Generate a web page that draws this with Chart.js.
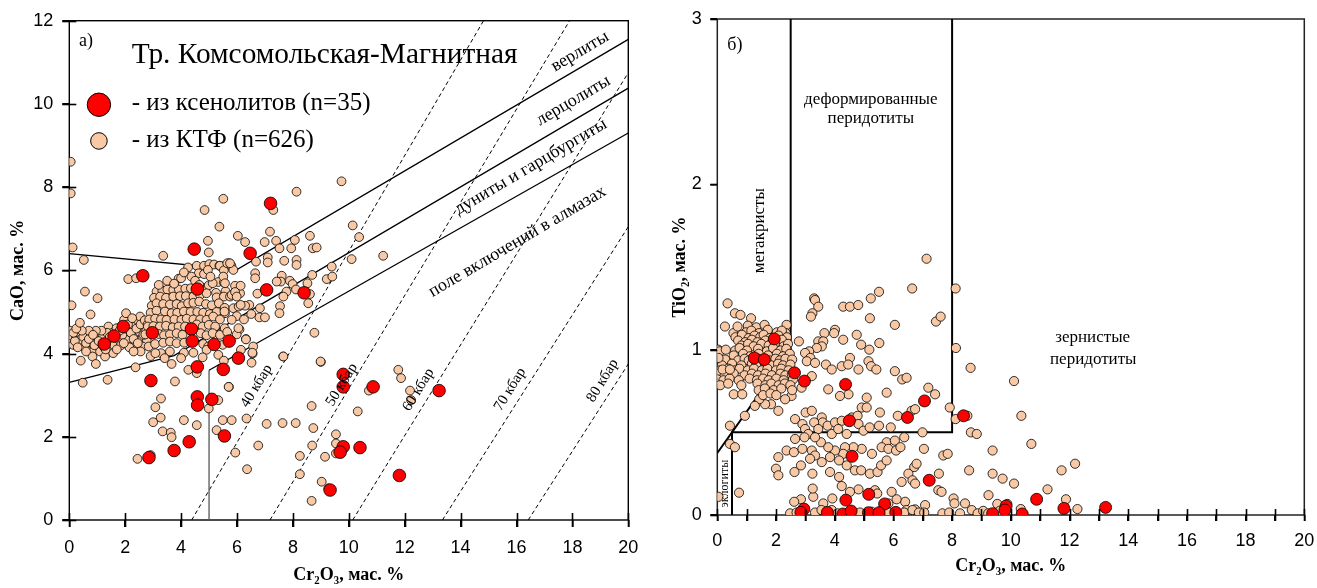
<!DOCTYPE html>
<html><head><meta charset="utf-8">
<script src="https://cdn.jsdelivr.net/npm/chart.js@4.4.1/dist/chart.umd.min.js"></script>
<style>
html,body{margin:0;padding:0;background:#fff;width:1317px;height:588px;overflow:hidden}
#cl{position:absolute;left:0;top:0}
#cr{position:absolute;left:660px;top:0}
</style></head><body>
<canvas id="cl" width="660" height="588"></canvas>
<canvas id="cr" width="657" height="588"></canvas>
<script>
// ---------- DATA ----------
const cr2o3Ticks = [0,2,4,6,8,10,12,14,16,18,20];
const cr2o3MinorTicks = [0,1,2,3,4,5,6,7,8,9,10,11,12,13,14,15,16,17,18,19,20];
const caoTicks = [0,2,4,6,8,10,12];
const tio2Ticks = [0,1,2,3];

// Garnets from xenoliths (left: Cr2O3 vs CaO)
const xenolithCaO = [[4.47,6.51],[2.63,5.87],[4.58,5.55],[1.93,4.65],[1.6,4.42],[1.25,4.23],[2.97,4.5],[4.37,4.59],[4.4,4.3],[5.18,4.22],[5.72,4.3],[4.58,3.68],[5.51,3.62],[2.92,3.35],[4.58,2.96],[5.1,2.9],[4.59,2.76],[5.55,2.02],[4.29,1.88],[3.75,1.67],[2.85,1.5],[6.05,3.89],[7.06,5.53],[8.4,5.46],[9.33,0.72],[7.2,7.61],[6.47,6.41],[9.8,3.5],[9.8,3.2],[10.87,3.2],[13.23,3.11],[9.8,1.76],[10.4,1.74],[9.69,1.63],[11.81,1.07]];

// Garnets from heavy-mineral concentrate (left: Cr2O3 vs CaO)
const ktfCaO = [
[0.02,4.55],[0.05,4.41],[0.0,4.23],[0.14,4.21],[0.24,4.41],[0.36,4.49],[0.45,4.29],[0.56,4.13],[0.64,4.41],[0.74,4.5],[0.8,4.26],[0.91,4.38],[1.0,4.17],[1.07,4.49],[1.16,4.26],[1.31,4.33],[1.4,4.65],[1.43,4.17],[1.55,4.5],[1.69,4.26],[1.79,4.41],[1.88,4.61],[1.96,4.81],[2.03,4.97],[2.11,4.49],[2.19,4.29],[2.27,4.65],[2.36,4.49],[2.43,4.81],[2.53,4.89],[2.59,4.33],[2.67,4.61],[2.77,4.33],[2.5,4.53],[0.38,4.33],[0.86,4.05],[1.1,4.05],[1.57,4.01],[1.28,3.93],[0.83,3.93],[1.69,4.61],[2.05,4.33],[2.35,4.21],[2.62,4.17],[2.84,4.17],[3.07,4.23],
[0.2,4.3],[0.3,4.15],[0.5,4.4],[0.6,4.25],[0.7,4.35],[0.9,4.2],[1.0,4.4],[1.2,4.4],[1.25,4.15],[1.35,4.5],[1.5,4.3],[1.6,4.2],[1.65,4.45],[1.75,4.35],[1.85,4.2],[1.9,4.45],[2.0,4.6],[2.1,4.7],[2.2,4.5],[2.25,4.85],[2.3,4.35],[2.4,4.6],[2.45,4.25],[2.55,4.7],[2.65,4.45],[2.7,4.8],[2.75,4.55],[2.8,4.7],[1.15,4.55],[0.95,4.55],[0.7,4.55],[1.45,4.4],[1.8,4.55],[0.15,4.5],[0.85,4.45],[1.05,4.3],[1.3,4.1],[1.7,4.1],[2.15,4.15],[2.55,4.05],[0.45,4.55],[0.25,4.6],[1.95,4.25],[2.3,4.05],[0.6,4.05],
[4.25,6.07],[4.56,6.11],[4.82,6.11],[5.01,6.15],[5.18,6.14],[5.37,6.11],[5.56,6.11],[5.72,6.17],[4.63,5.93],[4.82,5.91],[4.96,6.01],[3.91,5.8],[4.0,5.81],[4.37,5.85],[5.33,5.72],[5.53,5.71],[3.12,5.49],[3.33,5.51],[3.51,5.54],[3.72,5.53],[3.92,5.54],[4.15,5.56],[4.35,5.57],[4.79,5.58],[4.99,5.64],[5.13,5.69],[5.25,5.46],[5.59,5.5],[3.03,5.34],[3.25,5.37],[3.46,5.34],[3.72,5.37],[3.96,5.38],[4.17,5.38],[4.44,5.37],[4.68,5.41],[4.91,5.45],[5.27,5.35],[5.53,5.37],[5.75,5.37],[2.95,5.15],[3.12,5.21],[3.36,5.19],[3.6,5.18],[3.84,5.19],[4.02,5.14],[4.25,5.21],[4.44,5.22],[4.65,5.25],[4.89,5.19],[5.1,5.16],[5.35,5.21],[5.56,5.1],[2.91,4.98],[3.12,5.03],[3.42,5.01],[3.66,4.97],[3.86,4.98],[4.1,5.01],[4.34,5.0],[4.58,5.0],[4.79,4.98],[5.03,4.95],[5.27,5.0],[5.57,4.97],[2.86,4.82],[3.07,4.84],[3.28,4.82],[3.48,4.81],[3.76,4.82],[4.01,4.81],[4.2,4.84],[4.44,4.82],[4.68,4.82],[4.91,4.81],[5.15,4.89],[5.39,4.82],[2.81,4.65],[3.01,4.66],[3.24,4.65],[3.46,4.67],[3.7,4.63],[3.91,4.65],[4.14,4.65],[4.56,4.7],[4.77,4.65],[4.99,4.69],[5.22,4.65],[2.72,4.46],[3.2,4.47],[3.39,4.44],[3.6,4.46],[3.84,4.49],[4.05,4.45],[4.7,4.49],[4.91,4.44],[5.13,4.49],[5.39,4.45],[3.36,4.26],[3.6,4.29],[3.84,4.25],[4.11,4.26],[4.79,4.23],[4.97,4.17],[5.49,4.21],[3.6,4.05],[4.1,4.02],[4.44,4.02],[4.91,4.09],[5.33,3.97],[5.53,3.83],[3.66,3.75],[4.0,3.89],[4.77,3.91],[3.28,4.01],[2.91,3.94],[3.08,4.01],[4.26,3.61],
[5.39,6.11],[5.53,6.0],[5.65,6.17],[5.8,6.11],[5.51,5.85],[5.57,5.69],[5.81,5.41],[5.93,5.63],[5.87,5.09],[6.06,5.13],[5.55,5.01],[5.99,4.9],[5.81,4.81],[5.56,4.61],[3.5,5.75],[3.2,5.65],[4.5,5.75],[5.05,5.85],[4.1,5.95],[3.75,5.68],[4.65,5.65],
[0.05,8.61],[0.05,7.85],[0.12,6.55],[0.52,6.25],[3.36,6.35],[5.51,7.72],[4.84,7.45],[5.37,7.05],[4.96,6.71],[4.99,6.43],[2.11,5.79],[2.39,5.81],[0.56,5.49],[1.01,5.33],[0.08,5.16],[0.76,4.94],[0.38,4.74],[0.41,3.83],[0.95,3.75],[0.48,3.3],[1.37,3.37],[2.37,3.67],[3.28,2.92],[3.78,3.33],
[3.41,3.89],[3.08,2.71],[3.0,2.35],[3.27,2.46],[3.34,2.13],[3.63,2.1],[3.66,1.99],[4.1,2.4],[4.56,2.28],[4.56,3.53],[5.33,2.88],[4.99,2.68],[5.27,2.16],[5.49,2.4],[5.81,2.4],[5.94,1.62],[6.34,2.44],[6.36,1.22],[6.76,1.79],[7.06,2.31],[7.63,2.33],[8.1,2.33],[8.73,2.21],[8.67,2.74],[8.69,1.79],[8.25,1.54],[8.25,1.1],[9.15,1.52],[9.03,0.92],[9.27,0.76],[8.67,0.46],[9.0,3.8],[8.77,4.5],[7.65,3.93],[6.52,3.78],[6.56,4.0],[6.32,4.35],[6.09,4.58],[5.71,3.2],[2.44,1.47],[2.91,1.56],
[11.77,3.61],[11.87,3.41],[12.19,3.11],[12.23,2.88],[10.72,3.11],[10.32,2.61],[9.54,2.06],[9.54,1.84],[9.54,1.6],
[9.74,8.14],[8.13,7.89],[7.3,7.45],[10.14,7.08],[10.37,6.8],[11.23,6.35],[10.1,6.27],[6.03,6.83],[6.29,6.68],[7.18,6.93],[6.99,6.68],[7.4,6.71],[8.07,6.73],[8.61,6.83],[7.52,6.53],[7.94,6.53],[8.71,6.53],[8.85,6.55],[6.68,6.21],[7.1,6.31],[7.1,6.19],[7.69,6.23],[8.13,6.25],[8.13,6.13],[9.39,6.09],[9.21,5.79],[9.41,5.85],[8.69,5.89],[6.65,5.93],[6.65,5.81],[5.87,6.01],[5.75,6.17],[7.6,5.87],[7.57,5.73],[7.42,5.73],[7.89,5.75],[7.99,5.67],[7.77,5.49],[8.11,5.54],[8.52,5.69],[8.61,5.43],[8.55,5.21],[7.66,5.37],[7.54,5.14],[7.52,4.97],[6.82,5.09],[6.8,4.87],[7.0,4.87],[6.44,5.17],[6.29,5.15],[6.13,5.17],[6.11,5.45],[6.13,5.63],[5.93,5.48],[5.99,5.37],[6.73,5.44],[6.51,4.95],[6.25,4.82],[6.32,4.34],[5.99,4.46],[5.65,4.52],[6.05,4.61],[6.58,4.17],[6.55,4.02],[6.14,4.09],[7.66,3.93],[8.99,3.81],[5.7,3.2]
];

// Garnets from xenoliths (right: Cr2O3 vs TiO2)
const xenolithTiO2 = [[1.26,0.95],[1.6,0.94],[1.94,1.065],[2.63,0.86],[2.97,0.81],[4.37,0.79],[4.5,0.57],[6.48,0.59],[7.06,0.69],[8.39,0.6],[4.59,0.355],[7.22,0.21],[5.16,0.125],[4.38,0.09],[5.7,0.067],[2.95,0.036],[2.85,0.016],[3.75,0.016],[4.28,0.006],[4.56,0.024],[5.15,0.014],[5.51,0.014],[6.08,0.016],[9.38,0.008],[9.84,0.054],[9.8,0.03],[10.39,0.006],[10.88,0.095],[11.81,0.04],[13.23,0.046]];

// Garnets from heavy-mineral concentrate (right: Cr2O3 vs TiO2)
const ktfTiO2 = [
[7.13,1.55],[6.64,1.37],[5.51,1.35],[5.23,1.31],[8.12,1.37],[3.3,1.31],
[0.35,1.28],[0.6,1.22],[0.79,1.21],[0.26,1.14],[0.55,1.1],[0.69,1.14],[1.15,1.19],[1.06,1.14],[1.32,1.12],[2.36,1.15],[2.16,1.1],[2.33,1.1],
[3.33,1.3],[3.44,1.26],[3.24,1.22],[3.19,1.2],[4.29,1.26],[4.52,1.26],[4.8,1.27],[5.2,1.19],[6.05,1.15],[7.45,1.17],[7.61,1.2],[8.13,1.01],[8.63,0.89],
[3.65,1.1],[4.01,1.12],[3.98,1.1],[3.44,1.05],[3.61,1.05],[3.56,1.02],[4.29,1.06],[4.75,1.09],[4.9,1.03],[5.18,1.0],[5.52,1.04],[3.39,1.01],[3.13,0.99],[2.99,0.98],[2.78,1.05],[3.17,0.95],[3.05,0.93],[3.33,0.92],[3.7,0.91],[3.9,0.88],[4.24,0.9],[4.52,0.95],[4.46,0.91],[4.81,0.88],[5.15,0.93],[5.24,0.9],[5.42,0.88],[6.05,0.87],[6.3,0.82],[6.45,0.83],[5.77,0.74],[5.09,0.71],[4.47,0.73],[4.18,0.72],[3.78,0.76],[3.22,0.84],[2.87,0.77],[2.53,0.72],[2.31,0.7],[2.08,0.63],[1.83,0.67],[1.63,0.67],[1.43,0.7],[0.56,0.73],[0.85,0.73],[1.28,0.66],[0.94,0.6],[0.43,0.54],[0.43,0.43],[0.6,0.41],[0.74,0.135],[0.04,0.11],
[2.65,0.58],[3.01,0.62],[3.22,0.63],[3.56,0.59],[3.59,0.56],[3.3,0.56],[2.9,0.55],[2.99,0.52],[3.1,0.49],[3.44,0.52],[3.76,0.54],[4.01,0.56],[4.24,0.57],[4.58,0.59],[4.78,0.6],[4.92,0.65],[5.09,0.65],[3.9,0.49],[4.12,0.52],[4.41,0.49],[4.81,0.55],[4.98,0.51],[5.19,0.53],[5.54,0.62],[5.91,0.53],[6.15,0.6],[6.62,0.63],[6.74,0.64],[7.19,0.77],[7.42,0.73],[7.92,0.65],[8.12,0.58],[8.64,0.5],[8.84,0.49],[8.52,0.6],[6.99,0.5],[6.37,0.47],[5.51,0.54],[5.77,0.44],[6.05,0.45],[5.6,0.41],[5.27,0.37],[4.92,0.4],[4.64,0.41],[4.35,0.41],[4.29,0.37],[4.01,0.39],[3.78,0.41],[3.53,0.44],[3.33,0.47],[2.97,0.47],[2.65,0.46],[2.36,0.39],[2.08,0.35],[2.61,0.38],[2.9,0.4],[3.22,0.39],[3.33,0.36],[3.56,0.32],[3.84,0.35],[4.15,0.33],[4.41,0.3],[4.69,0.27],[4.9,0.27],[5.2,0.25],[5.46,0.26],[5.58,0.3],[5.77,0.33],[5.83,0.4],[6.09,0.39],[6.24,0.41],[6.71,0.29],[6.79,0.31],[6.51,0.25],[6.28,0.2],[6.65,0.21],[6.74,0.19],[7.55,0.25],[7.7,0.36],[7.85,0.37],[7.04,0.4],[8.58,0.27],[7.53,0.15],[7.64,0.14],[8.05,0.1],[8.08,0.07],[8.44,0.07],[9.24,0.12],[7.08,0.06],[6.4,0.08],[6.74,0.034],[6.45,0.03],[3.92,0.1],[3.27,0.11],[2.85,0.095],[3.61,0.07],[5.37,0.15],[5.45,0.13],[4.81,0.155],[4.52,0.14],[4.24,0.175],[4.15,0.23],[3.84,0.26],[3.24,0.25],[3.16,0.34],[2.85,0.3],[2.63,0.26],[2.0,0.28],[2.08,0.24],[3.25,0.16],[2.62,0.08],[5.94,0.14],[6.11,0.095],[5.83,0.07],
[2.48,0.01],[2.7,0.015],[3.33,0.015],[3.55,0.03],[3.9,0.03],[4.1,0.01],[4.44,0.01],[4.67,0.01],[4.86,0.015],[5.26,0.02],[5.85,0.015],[6.37,0.015],[6.65,0.03],[6.87,0.015],[7.05,0.015],[7.67,0.01],[7.9,0.015],[8.27,0.01],[8.67,0.03],[8.87,0.01],[9.06,0.025],[9.23,0.01],[9.52,0.01],
[10.11,0.81],[10.36,0.6],[10.7,0.43],[9.38,0.39],[9.38,0.25],[9.72,0.22],[10.11,0.19],[11.25,0.155],[11.73,0.27],[12.19,0.31],[11.88,0.095],[12.27,0.036],[10.34,0.036],[9.54,0.067],[9.88,0.067],[9.63,0.026],
[1.04,1.145],[1.33,1.135],[1.61,1.15],
[0.98,1.105],[1.16,1.115],[1.42,1.1],[1.72,1.12],[2.03,1.105],[2.2,1.115],
[0.62,1.075],[0.84,1.09],[1.07,1.07],[1.27,1.085],[1.46,1.075],[1.58,1.09],[1.79,1.07],[2.09,1.085],[2.37,1.075],
[0.71,1.055],[0.95,1.045],[1.18,1.06],[1.37,1.045],[1.64,1.055],[1.87,1.045],[2.2,1.06],
[0.82,1.025],[1.05,1.035],[1.24,1.02],[1.5,1.035],[1.75,1.025],[1.96,1.035],[2.26,1.02],[2.41,1.035],
[0.03,1.0],[0.61,0.995],[0.76,1.01],[1.01,0.995],[1.39,1.005],[1.69,0.99],[1.9,1.01],[2.15,0.995],[2.35,1.005],
[0.56,0.965],[0.88,0.975],[1.12,0.96],[1.41,0.975],[1.73,0.965],[2.03,0.975],[2.24,0.96],[2.47,0.975],
[0.27,0.94],[0.71,0.935],[0.93,0.945],[1.07,0.935],[1.41,0.945],[1.79,0.935],[1.98,0.945],[2.13,0.935],[2.32,0.945],[2.55,0.94],
[0.16,0.905],[0.5,0.915],[0.82,0.905],[1.18,0.915],[1.33,0.905],[1.64,0.915],[1.84,0.905],[2.07,0.915],[2.24,0.905],[2.49,0.91],
[0.1,0.875],[0.37,0.885],[0.61,0.875],[0.76,0.885],[1.04,0.875],[1.25,0.885],[1.52,0.875],[1.71,0.885],[2.0,0.875],[2.18,0.885],[2.43,0.875],
[0.05,0.855],[0.25,0.845],[0.56,0.855],[0.93,0.845],[1.18,0.855],[1.39,0.845],[1.64,0.855],[1.86,0.845],[2.15,0.855],[2.32,0.845],[2.54,0.85],
[0.0,0.82],[0.21,0.815],[0.42,0.825],[0.73,0.815],[1.1,0.825],[1.35,0.815],[1.56,0.825],[1.75,0.815],[2.01,0.825],[2.26,0.815],[2.58,0.82],
[0.1,0.785],[0.37,0.795],[0.82,0.785],[1.37,0.795],[1.64,0.785],[1.84,0.795],[2.09,0.785],[2.3,0.795],[2.49,0.785],
[1.41,0.755],[1.62,0.765],[1.92,0.755],[2.18,0.765],[2.55,0.755],
[1.56,0.725],[1.81,0.735],[2.01,0.725],
[0.09,0.99],[0.04,0.95],[0.29,1.0],[0.18,0.88],[0.43,0.88]
];

// Field boundaries (left panel)
const bound1 = [[0,6.4],[6.0,6.02],[20,11.55]];
const bound2 = [[0,3.31],[3.75,3.95],[20,10.38]];
const bound3 = [[5,3.6],[20,9.3]];
const bound3Vert = [[5,0],[5,3.6]];
const isobarNames = ['40 кбар','50 кбар','60 кбар','70 кбар','80 кбар'];
const isobarLines = [[[4.38,0],[14.82,12]],[[7.18,0],[17.9,12]],[[10.14,0],[20,10.75]],[[13.35,0],[20,7.05]],[[16.42,0],[20,3.75]]];
// Field boundaries (right panel)
const megaDiag = [[0,0.375],[2.5,1.0],[2.5,3]];
const deformBox = [[0.5,0],[0.5,0.5],[8,0.5],[8,3]];

// ---------- RENDERING ----------
const BEIGE = '#F9C9A6';
const RED = '#FF0000';
const pts = a => a.map(p => ({x:p[0], y:p[1]}));
const SERIF = '"Liberation Serif", "Times New Roman", serif';

function makeDeco(cfg) {
  return {
    id: 'deco',
    beforeDatasetsDraw(chart) {
      const ctx = chart.ctx, a = chart.chartArea;
      ctx.save();
      ctx.strokeStyle = cfg.frameColor; ctx.lineWidth = cfg.frameWidth; ctx.setLineDash([]);
      ctx.strokeRect(a.left, a.top, a.right - a.left, a.bottom - a.top);
      ctx.restore();
    },
    afterDraw(chart) {
      const ctx = chart.ctx, a = chart.chartArea, xs = chart.scales.x, ys = chart.scales.y;
      ctx.save();
      ctx.setLineDash([]);
      ctx.strokeStyle = '#000'; ctx.lineWidth = 1.6;
      cfg.xt.values.forEach(t => {
        const px = Math.round(xs.getPixelForValue(t)) + 0.5;
        ctx.beginPath();
        ctx.moveTo(px, a.bottom - cfg.xt.inner); ctx.lineTo(px, a.bottom + cfg.xt.outer);
        ctx.stroke();
      });
      cfg.yt.values.forEach(t => {
        const py = Math.round(ys.getPixelForValue(t)) + 0.5;
        ctx.beginPath();
        ctx.moveTo(a.left - cfg.yt.outer, py); ctx.lineTo(a.left + cfg.yt.inner, py);
        ctx.stroke();
      });
      ctx.restore();
      (cfg.markers || []).forEach(m => {
        ctx.save(); ctx.beginPath();
        ctx.arc(xs.getPixelForValue(m.x), ys.getPixelForValue(m.y), m.r, 0, 2*Math.PI);
        ctx.fillStyle = m.fill; ctx.fill(); ctx.lineWidth = 1; ctx.strokeStyle = '#000'; ctx.stroke();
        ctx.restore();
      });
      cfg.texts.forEach(t => {
        ctx.save();
        ctx.translate(xs.getPixelForValue(t.x), ys.getPixelForValue(t.y));
        ctx.rotate(-(t.rot || 0) * Math.PI / 180);
        let size = t.size;
        ctx.font = size + 'px ' + SERIF;
        if (t.fitW) {
          size = size * t.fitW / ctx.measureText(t.text).width;
          ctx.font = size + 'px ' + SERIF;
        }
        ctx.fillStyle = '#000'; ctx.textAlign = t.align || 'center'; ctx.textBaseline = 'middle';
        ctx.fillText(t.text, 0, 0);
        ctx.restore();
      });
    }
  };
}

function scatterSet(data, color, r, order) {
  return {type:'scatter', data: pts(data), backgroundColor: color, borderColor:'#000', borderWidth:0.8,
          pointRadius: r, pointHoverRadius: r, order: order, showLine:false};
}
function lineSet(data, color, w, dash) {
  return {type:'scatter', data: pts(data), showLine:true, borderColor: color, borderWidth: w,
          borderDash: dash || [], pointRadius:0, pointHoverRadius:0, fill:false, tension:0, order: 5};
}
const tickFont = {family:'"Liberation Sans", Arial, sans-serif', size:18};
const titleFont = {family:SERIF, size:18, weight:'bold'};

function makeScales(o) {
  return {
    x: {type:'linear', min:0, max:20,
        grid:{display:true, drawOnChartArea:false, drawTicks:true, tickLength:o.xTL, color:'#000', lineWidth:1.6},
        border:{display:false},
        ticks:{stepSize:o.xStep, font:tickFont, color:'#000', padding:o.xPad, maxRotation:0, autoSkip:false,
               callback: v => (v % 2 === 0 ? String(v) : '')},
        title:{display:true, text:'Cr₂O₃, мас. %', font:titleFont, color:'#000', padding:{top:0,bottom:o.xTitlePad}},
        afterFit: s => { s.height = o.xH; s.paddingLeft = 0; s.paddingRight = 0; }},
    y: {type:'linear', min:0, max:o.yMax,
        grid:{display:true, drawOnChartArea:false, drawTicks:true, tickLength:o.yTL, color:'#000', lineWidth:1.6},
        border:{display:false},
        ticks:{stepSize:o.yStep, font:tickFont, color:'#000', padding:o.yPad, autoSkip:false},
        title:{display:true, text:o.yTitle, font:titleFont, color:'#000', padding:{top:o.yTitlePad,bottom:0}},
        afterFit: s => { s.width = o.yW; s.paddingTop = 0; s.paddingBottom = 0; }}
  };
}

// Left chart
const leftSets = [
  scatterSet(xenolithCaO, RED, 6.3, 1),
  scatterSet(ktfCaO, BEIGE, 4.4, 2),
  lineSet(bound1, '#000', 1.3), lineSet(bound2, '#000', 1.3), lineSet(bound3, '#000', 1.3),
  lineSet(bound3Vert, '#555', 1.3)
];
isobarLines.forEach(l => leftSets.push(lineSet(l, '#000', 1, [4,3])));

new Chart(document.getElementById('cl'), {
  data: {datasets: leftSets},
  options: {
    responsive:false, animation:false, devicePixelRatio:1, events:[],
    layout:{padding:{left:0, right:31.7, top:20.7, bottom:0}},
    scales: makeScales({xStep:2, xTL:7, xPad:10, xTitlePad:2, xH:68, yMax:12, yStep:2, yTL:7, yPad:9, yTitle:'CaO, мас. %', yTitlePad:8, yW:69.3}),
    plugins: {legend:{display:false}, tooltip:{enabled:false}}
  },
  plugins:[makeDeco({
    frameColor:'#000', frameWidth:1.4,
    xt:{values:cr2o3Ticks, inner:7, outer:7},
    yt:{values:caoTicks, inner:7, outer:7},
    markers:[{x:1.06, y:9.98, r:11.7, fill:RED},{x:1.06, y:9.11, r:8.3, fill:BEIGE}],
    texts:[
      {text:'а)', x:0.6, y:11.5, size:18},
      {text:'Тр. Комсомольская-Магнитная', x:2.23, y:11.18, size:27, fitW:386, align:'left'},
      {text:'- из ксенолитов (n=35)', x:2.23, y:10.0, size:25, align:'left'},
      {text:'- из КТФ (n=626)', x:2.23, y:9.13, size:25, align:'left'},
      {text:'верлиты', x:18.27, y:11.26, size:18, rot:30.5},
      {text:'лерцолиты', x:18.03, y:10.08, size:18, rot:30.5},
      {text:'дуниты и гарцбургиты', x:16.51, y:8.49, size:18, rot:30.5},
      {text:'поле включений в алмазах', x:16.03, y:6.69, size:18, rot:30.5},
      {text:isobarNames[0], x:6.70, y:3.22, size:15, rot:58.6},
      {text:isobarNames[1], x:9.75, y:3.25, size:15, rot:58.6},
      {text:isobarNames[2], x:12.49, y:3.13, size:15, rot:58.6},
      {text:isobarNames[3], x:15.77, y:3.14, size:15, rot:58.6},
      {text:isobarNames[4], x:19.08, y:3.35, size:15, rot:58.6}
    ]
  })]
});

// Right chart
const rightSets = [
  scatterSet(xenolithTiO2, RED, 6.0, 1),
  scatterSet(ktfTiO2, BEIGE, 4.6, 2),
  lineSet(megaDiag, '#000', 2), lineSet(deformBox, '#000', 2)
];
new Chart(document.getElementById('cr'), {
  data: {datasets: rightSets},
  options: {
    responsive:false, animation:false, devicePixelRatio:1, events:[],
    layout:{padding:{left:0, right:12.7, top:19, bottom:0}},
    scales: makeScales({xStep:1, xTL:6, xPad:9, xTitlePad:11, xH:73, yMax:3, yStep:1, yTL:7, yPad:8.6, yTitle:'TiO₂, мас. %', yTitlePad:10, yW:57.3}),
    plugins: {legend:{display:false}, tooltip:{enabled:false}}
  },
  plugins:[makeDeco({
    frameColor:'#222', frameWidth:1.5,
    xt:{values:cr2o3MinorTicks, inner:6, outer:6},
    yt:{values:tio2Ticks, inner:0, outer:7},
    texts:[
      {text:'б)', x:0.6, y:2.84, size:18},
      {text:'деформированные', x:5.23, y:2.51, size:17},
      {text:'перидотиты', x:5.23, y:2.395, size:17},
      {text:'мегакристы', x:1.45, y:1.72, size:17, rot:90},
      {text:'зернистые', x:12.79, y:1.073, size:17},
      {text:'перидотиты', x:12.81, y:0.94, size:17},
      {text:'эклогиты', x:0.24, y:0.19, size:12, rot:90}
    ]
  })]
});
</script>
</body></html>
